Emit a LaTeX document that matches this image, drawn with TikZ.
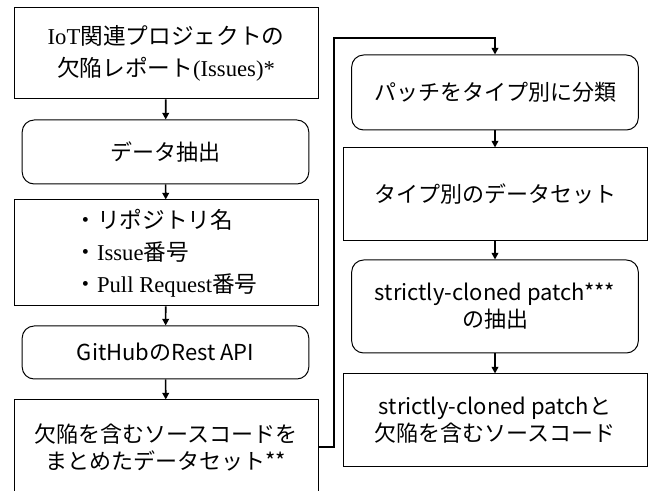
\documentclass[tikz,border=0pt]{standalone}
\usepackage{fontspec}
\setmainfont{Liberation Serif}
\newfontfamily\jp{Noto Sans CJK JP}
\usetikzlibrary{arrows.meta}

\begin{document}
\begin{tikzpicture}[x=0.75pt,y=-0.75pt,
  sqbox/.style={draw,line width=0.75pt,minimum width=228pt,align=center},
  rdbox/.style={draw,line width=0.75pt,rounded corners=9pt,minimum width=215pt,align=center},
  mincho/.style={font=\fontsize{17}{24}\selectfont},
  gothic/.style={font=\jp\fontsize{16.5}{20.25}\selectfont},
  flow/.style={-{Triangle[length=5pt,width=5pt]},line width=1.2pt}]
\clip (0,0) rectangle (651,491);
%\draw[help lines,step=50] (0,0)grid(651,491);
\draw (166,53.5)coordinate(p1)
      (165.5,152)coordinate(p2)
      (166,253)coordinate(p3)
      (165.5,352.5)coordinate(p4)
      (166,447)coordinate(p5)
      (495,92.5)coordinate(p6)
      (495,194.5)coordinate(p7)
      (495,306.5)coordinate(p8)
      (495,420.5)coordinate(p9)
      (334,38)coordinate(turn);
% left column
\node[sqbox,mincho,minimum height=68.25pt] (issues) at (p1)
  {IoT{\jp 関連プロジェクトの}\\{\jp 欠陥レポート}(Issues)*};
\node[rdbox,gothic,minimum height=48pt] (extract) at (p2) {データ抽出};
\node[sqbox,mincho,align=left,minimum height=79.5pt] (ids) at (p3)
  {{\jp ・リポジトリ名}\\
   {\jp ・}Issue{\jp 番号}\\
   {\jp ・}Pull Request{\jp 番号}};
\node[rdbox,gothic,minimum height=39.75pt] (api) at (p4) {GitHubのRest API};
\node[sqbox,gothic,minimum height=70.5pt] (srcset) at (p5)
  {欠陥を含むソースコードを\\まとめたデータセット**};
% right column
\node[rdbox,gothic,minimum height=56.25pt] (classify) at (p6) {パッチをタイプ別に分類};
\node[sqbox,gothic,minimum height=69.75pt] (typeset) at (p7) {タイプ別のデータセット};
\node[rdbox,gothic,minimum height=69.75pt] (scextract) at (p8) {strictly-cloned patch***\\の抽出};
\node[sqbox,gothic,minimum height=69.75pt] (result) at (p9) {strictly-cloned patchと\\欠陥を含むソースコード};
% arrows
\draw[flow] (issues)--(extract);
\draw[flow] (extract)--(ids);
\draw[flow] (ids)--(api);
\draw[flow] (api)--(srcset);
\draw[flow,line width=1.7pt] (srcset.east)-|(turn)-|(classify.north);
\draw[flow] (classify)--(typeset);
\draw[flow] (typeset)--(scextract);
\draw[flow] (scextract)--(result);
\end{tikzpicture}
\end{document}
